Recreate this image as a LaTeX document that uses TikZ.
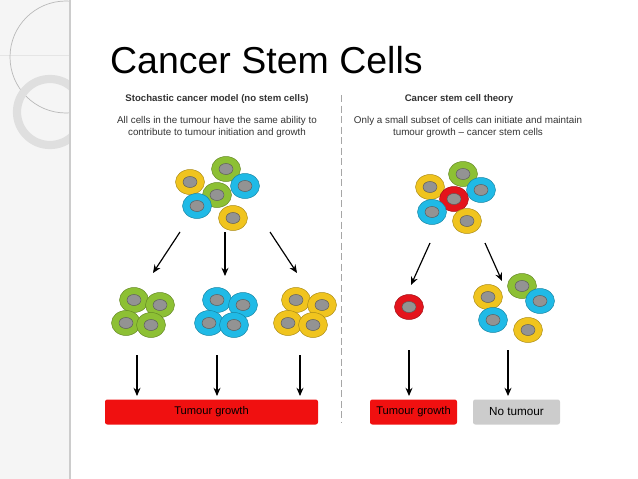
\documentclass[tikz,border=0pt]{standalone}
\usepackage{fontspec}
\setmainfont{Liberation Sans}
\usetikzlibrary{arrows.meta, positioning, shapes.geometric}
\definecolor{cgreen}{RGB}{141,192,52}
\definecolor{ccyan}{RGB}{32,186,230}
\definecolor{cyellow}{RGB}{240,196,30}
\definecolor{cred}{RGB}{228,20,28}
\definecolor{boxred}{RGB}{240,16,16}
\tikzset{
  cell/.style = {ellipse, draw=#1!70!black, fill=#1, minimum width=29*0.03cm, minimum height=25*0.03cm, inner sep=0pt},
  nucleus/.style = {ellipse, draw=gray!70!black, fill=gray!85, minimum width=14*0.03cm, minimum height=11*0.03cm, inner sep=0pt},
  down/.style = {-{Stealth[length=7pt,width=6pt]}, line width=1pt},
  outcome/.style = {rounded corners=2pt, minimum height=25*0.03cm, font=\fontsize{9.5}{10}\selectfont, inner sep=0pt}
}
\newcommand{\cellat}[3]{\node[cell=#1] (#3) at (#2) {}; \node[nucleus] at (#2) {};}
\begin{document}
\begin{tikzpicture}[x=0.03cm, y=-0.03cm]
  \useasboundingbox (0,0) rectangle (638,479);
  % side strip and decoration
  \fill[gray!8] (0,0) rectangle (70,479);
  \begin{scope}
    \clip (0,0) rectangle (70,479);
    \draw[gray!20, line width=0.5pt] (0,55) -- (70,55);
    \draw[gray!55, line width=0.6pt] (66,57) circle (56);
    \draw[gray!25, line width=7pt] (50,112) circle (33);
  \end{scope}
  \draw[gray!40, line width=1pt] (70,0) -- (70,479);
  \node[anchor=base west, font=\fontsize{32}{34}\selectfont] (title) at (106,74) {Cancer Stem Cells};
  % headings
  \node[font=\bfseries\fontsize{8.2}{9}\selectfont, text=black!80] (hl) at (217,99) {Stochastic cancer model (no stem cells)};
  \node[font=\fontsize{8.4}{11}\selectfont, align=center, text=black!80] (tl) at (217,127)
    {All cells in the tumour have the same ability to\\contribute to tumour initiation and growth};
  \node[font=\bfseries\fontsize{8.2}{9}\selectfont, text=black!80] (hr) at (459,99) {Cancer stem cell theory};
  \node[font=\fontsize{8.4}{11}\selectfont, align=center, text=black!80] (tr) at (468,127)
    {Only a small subset of cells can initiate and maintain\\tumour growth -- cancer stem cells};
  \draw[gray!70, line width=0.6pt, dash pattern=on 6pt off 3pt] (341,95) -- (341,422);
  % left tumour
  \cellat{cyellow}{190,182}{a1} \cellat{cgreen}{226,169}{a2} \cellat{ccyan}{245,186}{a3}
  \cellat{cgreen}{217,195}{a4} \cellat{ccyan}{197,206}{a5} \cellat{cyellow}{233,218}{a6}
  % clones
  \foreach \c/\dx in {cgreen/0, ccyan/83, cyellow/162} {
    \cellat{\c}{134+\dx,300}{b1} \cellat{\c}{160+\dx,305}{b2}
    \cellat{\c}{126+\dx,323}{b3} \cellat{\c}{151+\dx,325}{b4}
  }
  % right tumour
  \cellat{cyellow}{430,187}{r1} \cellat{cgreen}{463,174}{r2} \cellat{ccyan}{481,190}{r3}
  \cellat{cred}{454,199}{r4} \cellat{ccyan}{432,212}{r5} \cellat{cyellow}{467,221}{r6}
  \cellat{cred}{409,307}{s1}
  \cellat{cyellow}{488,297}{n1} \cellat{cgreen}{522,286}{n2} \cellat{ccyan}{540,301}{n3}
  \cellat{ccyan}{493,320}{n4} \cellat{cyellow}{528,330}{n5}
  % outcomes
  \node[outcome, fill=boxred, minimum width=213*0.03cm] (gl) at (211.5,412) {Tumour growth};
  \node[outcome, fill=boxred, minimum width=87*0.03cm] (gr) at (413.5,412) {Tumour growth};
  \node[outcome, fill=gray!40, minimum width=87*0.03cm, font=\fontsize{10}{11}\selectfont] (nt) at (516.5,412) {No tumour};
  % arrows
  \draw[down] (180,232) -- (153,273);
  \draw[down] (225,232) -- (225,276);
  \draw[down] (270,232) -- (297,273);
  \draw[down] (430,243) -- (411,285);
  \draw[down] (485,243) -- (502,281);
  \foreach \x in {137,217,300} \draw[down] (\x,355) -- (\x,396);
  \foreach \x in {409,508} \draw[down] (\x,350) -- (\x,396);
\end{tikzpicture}
\end{document}
